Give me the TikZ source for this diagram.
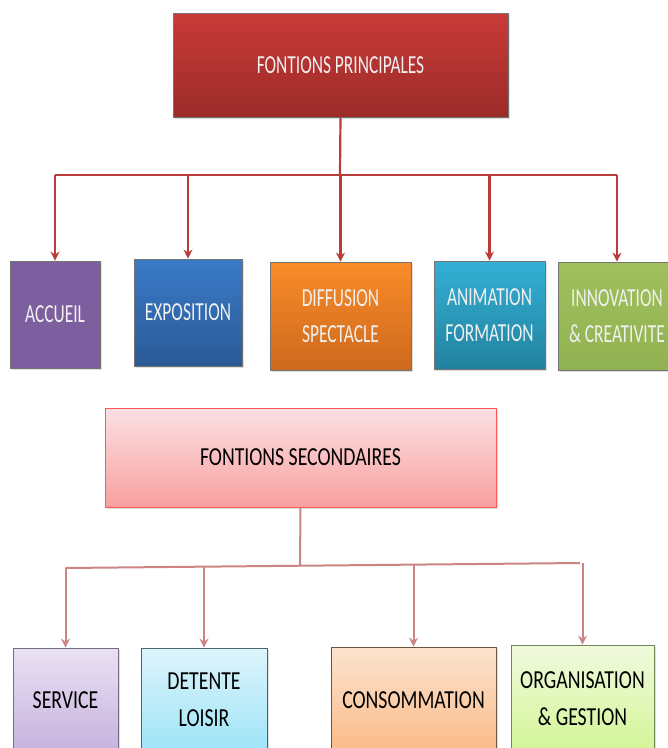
\documentclass[tikz,border=0pt]{standalone}
\usepackage{fontspec}
\setmainfont{Carlito}
\newfontfamily\upfont{Carlito}[FakeStretch=0.67]
\newfontfamily\lowfont{Carlito}[FakeStretch=0.76]
\usetikzlibrary{arrows.meta,shadows}

\definecolor{redtop}{RGB}{201,58,56}
\definecolor{redbot}{RGB}{155,43,40}
\definecolor{purp}{RGB}{125,94,158}
\definecolor{bluetop}{RGB}{58,122,200}
\definecolor{bluebot}{RGB}{42,90,150}
\definecolor{orgtop}{RGB}{250,140,40}
\definecolor{orgbot}{RGB}{205,105,30}
\definecolor{cyantop}{RGB}{52,176,214}
\definecolor{cyanbot}{RGB}{34,130,158}
\definecolor{grntop}{RGB}{160,192,92}
\definecolor{grnbot}{RGB}{145,178,82}
\definecolor{pinktop}{RGB}{251,224,227}
\definecolor{pinkbot}{RGB}{249,160,160}
\definecolor{lpurtop}{RGB}{233,225,243}
\definecolor{lpurbot}{RGB}{198,178,222}
\definecolor{lcyantop}{RGB}{221,244,251}
\definecolor{lcyanbot}{RGB}{158,228,248}
\definecolor{peachtop}{RGB}{252,227,206}
\definecolor{peachbot}{RGB}{250,186,136}
\definecolor{lgrntop}{RGB}{241,250,222}
\definecolor{lgrnbot}{RGB}{210,245,150}
\definecolor{colP}{RGB}{185,60,58}
\definecolor{colS}{RGB}{205,132,132}

\begin{document}
\begin{tikzpicture}[x=1pt, y=-1pt,
    box/.style={rectangle, inner sep=0pt, align=center,
        drop shadow={opacity=0.25, shadow xshift=1.5pt, shadow yshift=-1.5pt}},
    upbox/.style={box, draw=black!55, line width=0.8pt, text=white!94!black,
        font=\upfont\fontsize{26}{36}\selectfont},
    lowbox/.style={box, line width=0.8pt, text=black,
        font=\lowfont\fontsize{26}{37}\selectfont},
    linkprinc/.style={draw=colP, line width=2.2pt},
    linksec/.style={draw=colS, line width=2pt},
    tip/.style={-{Stealth[length=9pt, width=9pt, inset=3pt]}}]
    \useasboundingbox (0,0) rectangle (668,748);
    \clip (0,0) rectangle (668,748);

    % Funzioni principali
    \node[upbox, top color=redtop, bottom color=redbot, minimum width=335pt, minimum height=104pt]
        (princ) at (340.5,65) {FONTIONS PRINCIPALES};

    \node[upbox, fill=purp, minimum width=90pt, minimum height=107pt]
        (accueil) at (55,314.5) {ACCUEIL};
    \node[upbox, top color=bluetop, bottom color=bluebot, minimum width=108pt, minimum height=107pt]
        (expo) at (188,312.5) {EXPOSITION};
    \node[upbox, top color=orgtop, bottom color=orgbot, minimum width=141pt, minimum height=108pt]
        (diff) at (340.5,316) {DIFFUSION\\SPECTACLE};
    \node[upbox, top color=cyantop, bottom color=cyanbot, minimum width=111pt, minimum height=108pt]
        (anim) at (489.5,315) {ANIMATION\\FORMATION};
    \node[upbox, top color=grntop, bottom color=grnbot, minimum width=118pt, minimum height=108pt]
        (innov) at (617,316) {INNOVATION\\\& CREATIVITE};

    % Collegamenti principali
    \coordinate (busP) at (340,175);
    \coordinate (busPL) at (55,175);
    \coordinate (busPR) at (617,175);
    \draw[linkprinc] (princ.south) -- (busP);
    \draw[linkprinc] (busPL) -- (busPR);
    \draw[linkprinc, tip] (accueil.north |- busP) -- (accueil.north);
    \draw[linkprinc, tip] (expo.north |- busP) -- (expo.north);
    \draw[linkprinc, tip] (diff.north |- busP) -- (diff.north);
    \draw[linkprinc, tip] (anim.north |- busP) -- (anim.north);
    \draw[linkprinc, tip] (innov.north |- busP) -- (innov.north);

    % Funzioni secondarie
    \node[lowbox, draw=red!45!pinkbot, top color=pinktop, bottom color=pinkbot, minimum width=391pt, minimum height=99pt]
        (second) at (300.5,457.5) {FONTIONS SECONDAIRES};

    \node[lowbox, draw=lpurbot!60!black, top color=lpurtop, bottom color=lpurbot, minimum width=105pt, minimum height=104pt]
        (service) at (65.5,700) {SERVICE};
    \node[lowbox, draw=lcyanbot!45!black, top color=lcyantop, bottom color=lcyanbot, minimum width=126pt, minimum height=104pt]
        (detente) at (204,700) {DETENTE\\LOISIR};
    \node[lowbox, draw=peachbot!45!black, top color=peachtop, bottom color=peachbot, minimum width=165pt, minimum height=106pt]
        (conso) at (413.5,700) {CONSOMMATION};
    \node[lowbox, draw=lgrnbot!55!black, top color=lgrntop, bottom color=lgrnbot, minimum width=143pt, minimum height=108pt]
        (orga) at (582.5,699) {ORGANISATION\\\& GESTION};

    % Collegamenti secondari
    \coordinate (busS) at (300,566);
    \coordinate (busSL) at (65.5,568);
    \coordinate (busSR) at (580,563);
    \coordinate (busSD) at (204,567);
    \coordinate (busSC) at (413.5,565);
    \draw[linksec] (second.south) -- (busS);
    \draw[linksec] (busSL) -- (busSR);
    \draw[linksec, tip] (service.north |- busSL) -- (service.north);
    \draw[linksec, tip] (busSD) -- (detente.north);
    \draw[linksec, tip] (busSC) -- (conso.north);
    \draw[linksec, tip] (orga.north |- busSR) -- (orga.north);
\end{tikzpicture}
\end{document}
